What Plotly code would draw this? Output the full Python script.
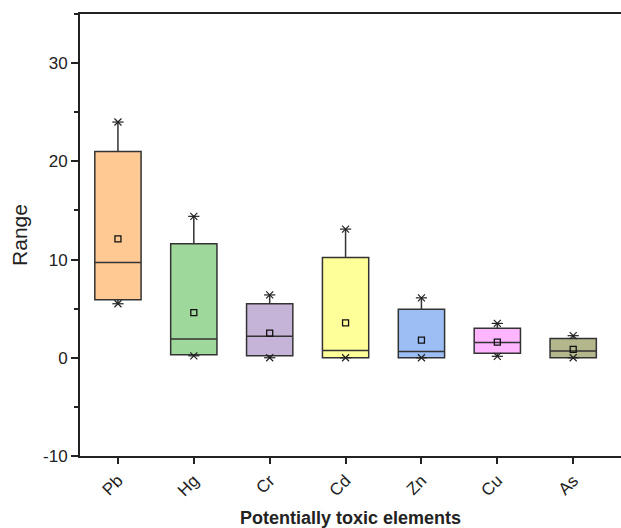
import plotly.graph_objects as go

cats = ["Pb", "Hg", "Cr", "Cd", "Zn", "Cu", "As"]
q1 = [5.9, 0.3, 0.2, 0.0, 0.0, 0.45, 0.0]
median = [9.7, 1.9, 2.2, 0.75, 0.65, 1.55, 0.7]
q3 = [21.0, 11.6, 5.5, 10.2, 4.95, 3.0, 1.95]
minv = [5.5, 0.2, 0.0, 0.0, 0.0, 0.15, 0.0]
maxv = [24.0, 14.4, 6.4, 13.1, 6.1, 3.5, 2.25]
meanv = [12.1, 4.6, 2.5, 3.55, 1.8, 1.6, 0.85]
yticks = [-10, 0, 10, 20, 30]
yticklabels = ["-10", "0", "10", "20", "30"]
colors = ["#FFC994", "#9FD89B", "#C6B4D8", "#FFFF99", "#9DBEF5", "#FFB5FF", "#B4B68C"]

fig = go.Figure()
for i, c in enumerate(cats):
    fig.add_trace(go.Box(
        x=[c], q1=[q1[i]], median=[median[i]], q3=[q3[i]],
        lowerfence=[minv[i]], upperfence=[maxv[i]],
        fillcolor=colors[i], line=dict(color="#333333", width=1.5),
        width=0.61, whiskerwidth=0, boxpoints=False, showlegend=False,
    ))

fig.add_trace(go.Scatter(x=cats, y=meanv, mode="markers", showlegend=False,
                         marker=dict(symbol="square-open", size=6, color="#111",
                                     line=dict(width=1.3))))
for vals in (maxv, minv):
    for sym, sz in (("x-thin-open", 7), ("line-ew-open", 8)):
        fig.add_trace(go.Scatter(x=cats, y=vals, mode="markers", showlegend=False,
                                 marker=dict(symbol=sym, size=sz, color="#222",
                                             line=dict(width=1.2, color="#222"))))

fig.update_layout(
    width=621, height=528,
    margin=dict(l=80, r=0, t=14, b=72),
    paper_bgcolor="white", plot_bgcolor="white",
    font=dict(family="Liberation Sans, Arial", color="#222"),
    boxmode="overlay",
    xaxis=dict(
        type="category", categoryorder="array", categoryarray=cats, automargin=False,
        range=[-0.5, 6.63], showline=True, linewidth=2, linecolor="#222", mirror=True,
        ticks="outside", ticklen=6, tickwidth=2, tickcolor="#222",
        tickangle=-45, tickfont=dict(size=17), showgrid=False, zeroline=False,
        title=dict(text="<b>Potentially toxic elements</b>", font=dict(size=18), standoff=23),
    ),
    yaxis=dict(
        range=[-10, 35], tickvals=yticks, ticktext=yticklabels, showline=True, linewidth=2,
        automargin=False,
        linecolor="#222", ticks="outside", ticklen=7, tickwidth=2, tickcolor="#222",
        minor=dict(ticks="outside", ticklen=4, tickwidth=1.5, tickcolor="#222", dtick=5, tick0=0),
        tickfont=dict(size=17), showgrid=False, zeroline=False,
        title=dict(text="Range", font=dict(size=21), standoff=10),
    ),
)

fig.write_html("out.html")
